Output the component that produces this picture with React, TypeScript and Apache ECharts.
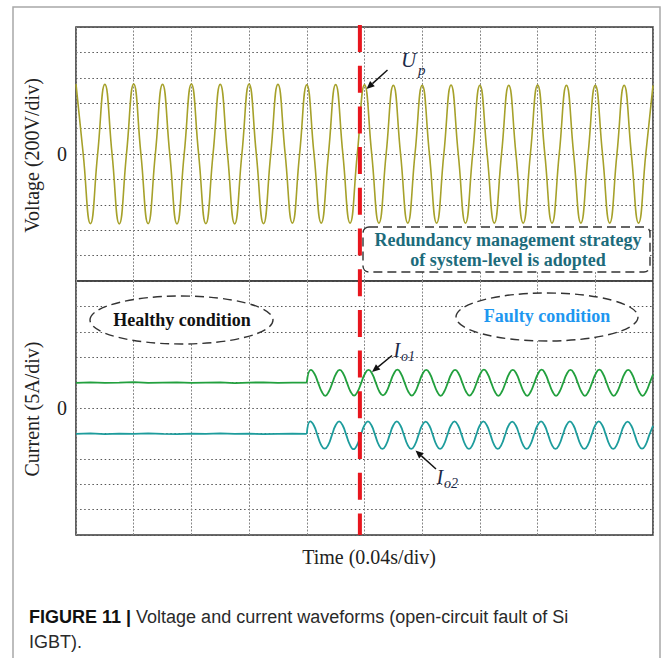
import React, { useEffect, useRef } from "react";
import * as echarts from "echarts";

// Axis ranges in scope divisions (time: 0.04 s/div, voltage: 200 V/div, current: 5 A/div)
const X_MIN = 0;
const X_MAX = 10;
const Y_MIN = -5;
const Y_MAX = 5;
const QUARTER = 0.125; // quarter of a 50 Hz period, in time divisions
const EIGHTH = 0.0625; // eighth of a 50 Hz period, in time divisions

// Voltage Up, sampled every quarter period from t = 0 to t = 10 div (values in div)
const voltageSamples = [
  2.75, 0, -2.74, 0, 2.74, 0, -2.75, 0, 2.75, 0, -2.74, 0, 2.74, 0, -2.75, 0,
  2.75, 0, -2.74, 0, 2.74, 0, -2.75, 0, 2.75, 0, -2.74, 0, 2.74, 0, -2.72, 0,
  2.72, 0, -2.72, 0, 2.73, 0, -2.72, 0,
  2.72, 0, -2.72, 0, 2.7, 0, -2.72, 0, 2.7, 0, -2.72, 0, 2.71, 0, -2.72, 0,
  2.7, 0, -2.72, 0, 2.7, 0, -2.72, 0, 2.71, 0, -2.72, 0, 2.7, 0, -2.72, 0,
  2.7, 0, -2.72, 0, 2.7, 0, -2.72, 0,
  2.7,
];

// Healthy condition: current traces before the fault (every 0.25 div from 0 to 4)
const flatTimes = [0, 0.25, 0.5, 0.75, 1, 1.25, 1.5, 1.75, 2, 2.25, 2.5, 2.75, 3, 3.25, 3.5, 3.75, 4];
const io1Flat = [0.99, 1.01, 0.99, 1.0, 1.02, 0.99, 1.0, 1.01, 0.99, 1.0, 1.01, 0.98, 1.0, 1.01, 0.99, 1.0, 1.0];
const io2Flat = [-1.02, -1.0, -1.03, -1.01, -1.02, -1.0, -1.02, -1.03, -1.01, -1.02, -1.0, -1.02, -1.01, -1.03, -1.02, -1.01, -1.02];

// Faulty condition: current traces sampled every eighth period after the onset
const io1WaveStart = 4.07;
const io1Wave = [
  1.5, 1.35, 1.0, 0.65, 0.48, 0.65, 1.0, 1.35,
  1.5, 1.35, 1.0, 0.65, 0.49, 0.65, 1.0, 1.35,
  1.5, 1.35, 1.0, 0.65, 0.5, 0.65, 1.0, 1.35,
  1.51, 1.35, 1.0, 0.65, 0.49, 0.65, 1.0, 1.35,
  1.5, 1.35, 1.0, 0.65, 0.48, 0.65, 1.0, 1.35,
  1.5, 1.35, 1.0, 0.65, 0.49, 0.65, 1.0, 1.35,
  1.51, 1.35, 1.0, 0.65, 0.48, 0.65, 1.0, 1.35,
  1.5, 1.35, 1.0, 0.65, 0.48, 0.65, 1.0, 1.35,
  1.51, 1.35, 1.0, 0.65, 0.48, 0.65, 1.0, 1.35,
  1.5, 1.35, 1.0, 0.65, 0.48, 0.65, 1.0, 1.35,
  1.51, 1.35, 1.0, 0.65, 0.48, 0.65, 1.0, 1.35,
  1.5, 1.35, 1.0, 0.65, 0.48, 0.65, 1.0,
];
const io1End = 1.32;
const io2WaveStart = 4.06;
const io2Wave = [
  -0.53, -0.69, -1.07, -1.45, -1.6, -1.45, -1.07, -0.69,
  -0.53, -0.69, -1.07, -1.45, -1.62, -1.45, -1.07, -0.69,
  -0.53, -0.69, -1.07, -1.45, -1.61, -1.45, -1.07, -0.69,
  -0.53, -0.69, -1.07, -1.45, -1.61, -1.45, -1.07, -0.69,
  -0.54, -0.69, -1.07, -1.45, -1.61, -1.45, -1.07, -0.69,
  -0.53, -0.69, -1.07, -1.45, -1.61, -1.45, -1.07, -0.69,
  -0.53, -0.69, -1.07, -1.45, -1.61, -1.45, -1.07, -0.69,
  -0.54, -0.69, -1.07, -1.45, -1.61, -1.45, -1.07, -0.69,
  -0.53, -0.69, -1.07, -1.45, -1.61, -1.45, -1.07, -0.69,
  -0.53, -0.69, -1.07, -1.45, -1.61, -1.45, -1.07, -0.69,
  -0.53, -0.69, -1.07, -1.45, -1.61, -1.45, -1.07, -0.69,
  -0.54, -0.69, -1.07, -1.45, -1.6, -1.45, -1.07,
];
const io2End = -0.7;
const FAULT_T = 4.92; // red dashed line: redundancy strategy adopted

// Texts
const VOLT_LABEL = "Voltage (200V/div)";
const CURR_LABEL = "Current (5A/div)";
const TIME_LABEL = "Time (0.04s/div)";
const BOX_LINES = ["Redundancy management strategy", "of system-level is adopted"];
const HEALTHY = "Healthy condition";
const FAULTY = "Faulty condition";
const CAPTION_BOLD = "FIGURE 11 |";
const CAPTION_1 = " Voltage and current waveforms (open-circuit fault of Si";
const CAPTION_2 = "IGBT).";

// Layout
const W = 665;
const H = 658;
const G_LEFT = 76;
const G_W = 577;
const G1_TOP = 27;
const G_H = 254;
const G2_TOP = 281;
const SERIF = "'Liberation Serif', 'Times New Roman', serif";
const SANS = "'Liberation Sans', Arial, sans-serif";

function arrow(x1: number, y1: number, x2: number, y2: number) {
  const dx = x2 - x1;
  const dy = y2 - y1;
  const len = Math.hypot(dx, dy);
  const ux = dx / len;
  const uy = dy / len;
  const hl = 8;
  const hw = 3.5;
  const bx = x2 - ux * hl;
  const by = y2 - uy * hl;
  const px = -uy;
  const py = ux;
  return [
    { type: "line", z: 120, shape: { x1, y1, x2: bx, y2: by }, style: { stroke: "#111", lineWidth: 1.4 } },
    {
      type: "polygon",
      z: 120,
      shape: { points: [[x2, y2], [bx + px * hw, by + py * hw], [bx - px * hw, by - py * hw]] },
      style: { fill: "#111" },
    },
  ];
}

function txt(x: number, y: number, text: string, o: any = {}, extra: any = {}) {
  return {
    type: "text",
    x,
    y,
    z: 130,
    ...extra,
    style: {
      text,
      fontFamily: SERIF,
      fontSize: 20,
      fill: "#222",
      align: "center",
      verticalAlign: "middle",
      ...o,
    },
  };
}

export default function App() {
  const ref = useRef<HTMLDivElement>(null);

  useEffect(() => {
    if (!ref.current) return;
    const chart = echarts.init(ref.current, undefined, { renderer: "svg", width: W, height: H });

    const voltageData = voltageSamples.map((v, i) => [X_MIN + i * QUARTER, v]);
    const io1FlatData = flatTimes.map((t, i) => [t, io1Flat[i]]);
    const io2FlatData = flatTimes.map((t, i) => [t, io2Flat[i]]);
    const io1WaveData = [
      [flatTimes[flatTimes.length - 1], io1Flat[io1Flat.length - 1]],
      ...io1Wave.map((v, i) => [io1WaveStart + i * EIGHTH, v]),
      [X_MAX, io1End],
    ];
    const io2WaveData = [
      [flatTimes[flatTimes.length - 1], io2Flat[io2Flat.length - 1]],
      ...io2Wave.map((v, i) => [io2WaveStart + i * EIGHTH, v]),
      [X_MAX, io2End],
    ];

    const faultX = G_LEFT + (G_W * (FAULT_T - X_MIN)) / (X_MAX - X_MIN);

    const xAxisBase = {
      type: "value",
      min: X_MIN,
      max: X_MAX,
      interval: 1,
      axisLine: { show: false },
      axisTick: { show: false },
      axisLabel: { show: false },
      splitLine: { show: true, lineStyle: { color: "#8a8a8a", width: 1, type: [2, 1.5] } },
    };
    const yAxisBase = {
      type: "value",
      min: Y_MIN,
      max: Y_MAX,
      interval: 1,
      axisLine: { show: false },
      axisTick: { show: false },
      axisLabel: {
        formatter: (v: number) => (v === 0 ? "0" : ""),
        fontFamily: SERIF,
        fontSize: 20,
        color: "#222",
        margin: 9,
      },
      splitLine: { show: true, lineStyle: { color: "#555", width: 1, type: [1.5, 2.6] } },
    };

    const lineBase = { type: "line", showSymbol: false, symbol: "none", silent: true };

    const dashedStroke = { stroke: "#333", lineWidth: 1.4, lineDash: [9, 5] };

    chart.setOption({
      animation: false,
      backgroundColor: "#ffffff",
      grid: [
        { left: G_LEFT, top: G1_TOP, width: G_W, height: G_H, show: true, borderColor: "#3a3a3a", borderWidth: 1.6, backgroundColor: "transparent" },
        { left: G_LEFT, top: G2_TOP, width: G_W, height: G_H, show: true, borderColor: "#3a3a3a", borderWidth: 1.6, backgroundColor: "transparent" },
      ],
      xAxis: [
        { ...xAxisBase, gridIndex: 0 },
        { ...xAxisBase, gridIndex: 1 },
      ],
      yAxis: [
        { ...yAxisBase, gridIndex: 0 },
        { ...yAxisBase, gridIndex: 1 },
      ],
      series: [
        { ...lineBase, name: "Up", xAxisIndex: 0, yAxisIndex: 0, smooth: 0.5, data: voltageData, lineStyle: { color: "#a6a12a", width: 1.6 } },
        { ...lineBase, name: "Io1 healthy", xAxisIndex: 1, yAxisIndex: 1, data: io1FlatData, lineStyle: { color: "#22a03e", width: 1.8 } },
        { ...lineBase, name: "Io1", xAxisIndex: 1, yAxisIndex: 1, smooth: 0.5, data: io1WaveData, lineStyle: { color: "#22a03e", width: 1.8 } },
        { ...lineBase, name: "Io2 healthy", xAxisIndex: 1, yAxisIndex: 1, data: io2FlatData, lineStyle: { color: "#1d9c9c", width: 1.8 } },
        { ...lineBase, name: "Io2", xAxisIndex: 1, yAxisIndex: 1, smooth: 0.5, data: io2WaveData, lineStyle: { color: "#1d9c9c", width: 1.8 } },
      ],
      graphic: [
        // outer figure frame
        { type: "rect", z: 90, shape: { x: 13, y: 7, width: 647, height: 720 }, style: { fill: "none", stroke: "#a8a8a8", lineWidth: 1.5 } },
        // red dashed fault line
        { type: "line", z: 110, shape: { x1: faultX, y1: 25, x2: faultX, y2: 535 }, style: { stroke: "#e8161e", lineWidth: 4, lineDash: [27, 13.7] } },
        // strategy box
        { type: "rect", z: 111, shape: { x: 363, y: 227, width: 287, height: 45, r: 6 }, style: { fill: "#ffffff", ...dashedStroke } },
        txt(508, 239.5, BOX_LINES[0], { fontWeight: "bold", fontSize: 18, fill: "#1c6b7b" }),
        txt(508, 259.5, BOX_LINES[1], { fontWeight: "bold", fontSize: 18, fill: "#1c6b7b" }),
        // ellipses
        { type: "ellipse", z: 111, shape: { cx: 181.5, cy: 320, rx: 91.5, ry: 24 }, style: { fill: "#ffffff", ...dashedStroke } },
        txt(182, 320, HEALTHY, { fontWeight: "bold", fontSize: 18, fill: "#111" }),
        { type: "ellipse", z: 111, shape: { cx: 547, cy: 317, rx: 91, ry: 24 }, style: { fill: "#ffffff", ...dashedStroke } },
        txt(547, 316, FAULTY, { fontWeight: "bold", fontSize: 18, fill: "#1e97f0" }),
        // Up label + arrow
        txt(401, 60, "U", { fontStyle: "italic", fontSize: 21, fill: "#1b2a48", align: "left" }),
        txt(418, 70, "p", { fontStyle: "italic", fontSize: 15, fill: "#1b2a48", align: "left" }),
        ...arrow(387.5, 70, 366.5, 89),
        // Io1 label + arrow
        txt(393.5, 349.5, "I", { fontStyle: "italic", fontSize: 20, fill: "#1b2a48", align: "left" }),
        txt(401, 356, "o1", { fontStyle: "italic", fontSize: 14, fill: "#1b2a48", align: "left" }),
        ...arrow(392, 355.5, 372, 372),
        // Io2 label + arrow
        txt(436.5, 476.5, "I", { fontStyle: "italic", fontSize: 20, fill: "#1b2a48", align: "left" }),
        txt(444, 483, "o2", { fontStyle: "italic", fontSize: 14, fill: "#1b2a48", align: "left" }),
        ...arrow(436, 469, 415.5, 450.5),
        // axis titles
        txt(32, 155.5, VOLT_LABEL, {}, { rotation: Math.PI / 2 }),
        txt(32, 409, CURR_LABEL, {}, { rotation: Math.PI / 2 }),
        txt(369, 557, TIME_LABEL),
        // caption
        {
          type: "text",
          z: 130,
          x: 29,
          y: 617,
          style: {
            text: `{b|${CAPTION_BOLD}}{r|${CAPTION_1}}`,
            align: "left",
            verticalAlign: "middle",
            rich: {
              b: { fontFamily: SANS, fontSize: 18, fontWeight: "bold", fill: "#111" },
              r: { fontFamily: SANS, fontSize: 18, fill: "#2a2a2a" },
            },
          },
        },
        txt(29, 642, CAPTION_2, { fontFamily: SANS, fontSize: 18, fill: "#2a2a2a", align: "left" }),
      ],
    });

    return () => chart.dispose();
  }, []);

  return (
    <div
      ref={ref}
      style={{ position: "fixed", left: 0, top: 0, width: W, height: H, background: "#fff" }}
    />
  );
}
